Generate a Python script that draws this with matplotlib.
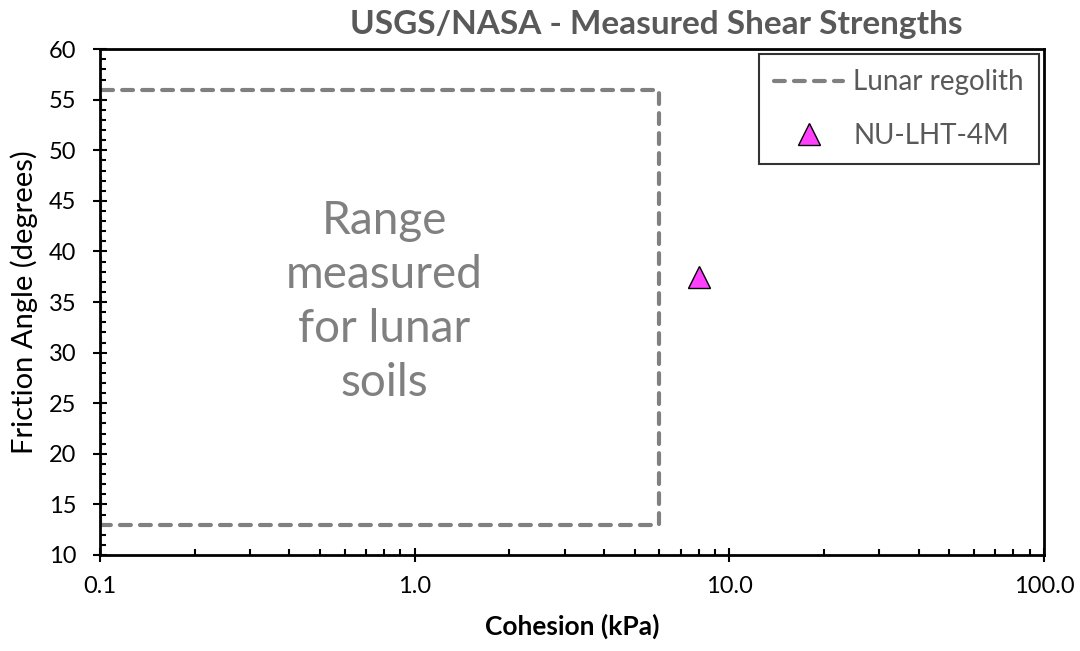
import matplotlib.pyplot as plt
from matplotlib.ticker import FixedLocator, FuncFormatter, MultipleLocator

plt.rcParams['font.family'] = ['Lato', 'DejaVu Sans']

# lunar regolith range (closed dashed outline)
regolith_cohesion = [0.1, 6.0, 6.0, 0.1, 0.1]
regolith_friction = [13, 13, 56, 56, 13]

# simulant measurement
nu_cohesion = [8.0]
nu_friction = [37.5]

x_ticks = [0.1, 1.0, 10.0, 100.0]
y_ticks = [10, 15, 20, 25, 30, 35, 40, 45, 50, 55, 60]

TEXT_GREY = "#595959"
LINE_GREY = "#808080"

fig = plt.figure(figsize=(10.8, 6.51), dpi=100)
ax = fig.add_axes([0.0926, 0.1475, 0.874, 0.777])

ax.plot(regolith_cohesion, regolith_friction, linestyle=(0, (2.6, 2.2)),
        dash_capstyle="round", color=LINE_GREY, linewidth=3,
        label="Lunar regolith")
ax.plot(nu_cohesion, nu_friction, linestyle="none", marker="^", markersize=16,
        markerfacecolor="#FF40FF", markeredgecolor="black", markeredgewidth=1,
        label="NU-LHT-4M")

ax.set_xscale("log")
ax.set_xlim(0.1, 100)
ax.set_ylim(10, 60)
ax.xaxis.set_major_locator(FixedLocator(x_ticks))
ax.xaxis.set_major_formatter(FuncFormatter(lambda v, p: f"{v:.1f}"))
ax.yaxis.set_major_locator(FixedLocator(y_ticks))
ax.yaxis.set_minor_locator(MultipleLocator(1))

ax.tick_params(which="major", direction="inout", length=10, width=1.5,
               labelsize=17, colors="black")
ax.tick_params(axis="x", which="major", pad=10)
ax.tick_params(axis="y", which="major", pad=12)
ax.tick_params(which="minor", direction="in", length=4.5, width=1.5)
for s in ax.spines.values():
    s.set_linewidth(2)

ax.text(0.8, 35, "Range\nmeasured\nfor lunar\nsoils", ha="center", va="center",
        fontsize=33, color=LINE_GREY, linespacing=1.36)

ax.set_xlabel("Cohesion (kPa)", fontsize=19, fontweight="bold", labelpad=12)
ax.set_ylabel("Friction Angle (degrees)", fontsize=21, labelpad=8)
fig.text(0.608, 0.963, "USGS/NASA - Measured Shear Strengths", ha="center",
         va="center", fontsize=24, fontweight="bold", color=TEXT_GREY)

leg = ax.legend(loc="upper right", fontsize=20, frameon=True, fancybox=False,
                edgecolor="black", handlelength=2.5, borderpad=0.55,
                labelspacing=1.0, handletextpad=0.35, borderaxespad=0.18)
leg.get_frame().set_linewidth(1.5)
for t in leg.get_texts():
    t.set_color(TEXT_GREY)

fig.savefig("out.png", dpi=100)
